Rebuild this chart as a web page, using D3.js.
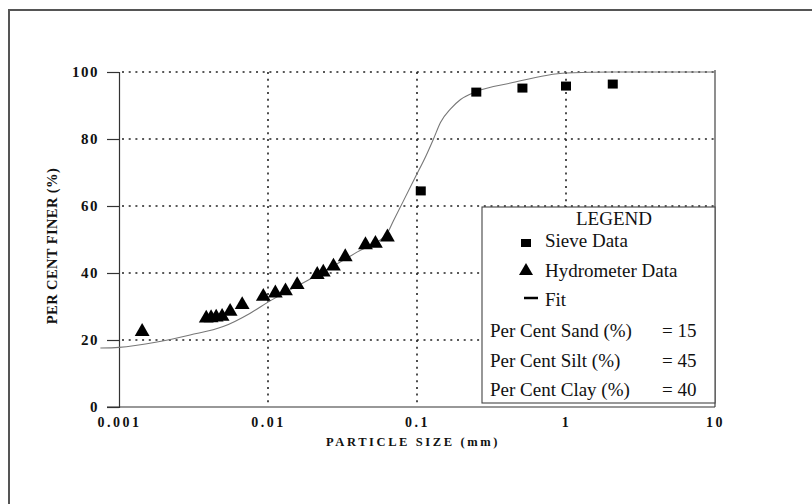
<!DOCTYPE html>
<html>
<head>
<meta charset="utf-8">
<script src="https://cdn.jsdelivr.net/npm/d3@7"></script>
<style>
  html, body { margin: 0; padding: 0; background: #fff; }
  svg { display: block; }
  text { fill: #111; }
</style>
</head>
<body>
<svg id="chart" width="812" height="504"></svg>
<script>
// Grain-size distribution: sieve + hydrometer readings with fitted curve
const sieveSize  = [0.106, 0.25, 0.51, 1.0, 2.06];
const sieveFiner = [64.5, 94.0, 95.2, 95.8, 96.4];

const hydroSize  = [0.00143, 0.00385, 0.00415, 0.00449, 0.00492, 0.00557, 0.00671,
                    0.0093, 0.0112, 0.0131, 0.0157, 0.0214, 0.0235, 0.0275, 0.0330,
                    0.0451, 0.0526, 0.0633];
const hydroFiner = [22.5, 26.5, 26.6, 26.8, 27.0, 28.5, 30.5,
                    33.0, 34.0, 34.6, 36.5, 39.5, 40.2, 42.0, 44.8,
                    48.4, 48.8, 50.7];

const fitSize  = [0.00075, 0.001, 0.0018, 0.003, 0.005, 0.0076, 0.01, 0.0192, 0.0398,
                  0.0633, 0.0695, 0.0977, 0.115, 0.129, 0.144, 0.168, 0.196, 0.251, 0.425,
                  1.0, 2.06, 4.0, 10.0];
const fitFiner = [17.6, 17.8, 19.4, 21.5, 24.0, 28.0, 31.3, 38.2, 46.3,
                  52.0, 55.6, 68.7, 75.0, 80.0, 85.0, 89.0, 91.8, 94.2, 96.7,
                  99.7, 100, 100, 100];

const xTickValues = [0.001, 0.01, 0.1, 1, 10];
const xTickLabels = ["0.001", "0.01", "0.1", "1", "10"];
const yTickValues = [0, 20, 40, 60, 80, 100];

const legendTitle = "LEGEND";
const seriesNames = ["Sieve Data", "Hydrometer Data", "Fit"];
const statNames  = ["Per Cent Sand (%)", "Per Cent Silt (%)", "Per Cent Clay (%)"];
const statValues = [15, 45, 40];

const svg = d3.select("#chart");
const serif = "'Liberation Serif', 'Times New Roman', serif";

// outer frame (runs off the right and bottom edges)
svg.append("path")
  .attr("d", "M9,520 L9,10 L830,10")
  .attr("fill", "none").attr("stroke", "#555").attr("stroke-width", 2);

const x = d3.scaleLog().domain([0.001, 10]).range([119, 715]);
const y = d3.scaleLinear().domain([0, 100]).range([407, 72]);

// dotted grid
const grid = svg.append("g").attr("stroke", "#222").attr("stroke-width", 1.6)
  .attr("stroke-dasharray", "2,4.7");
grid.selectAll("line.h").data(yTickValues.filter(d => d > 0)).join("line")
  .attr("x1", x(0.001) + 3).attr("x2", x(10))
  .attr("y1", d => y(d)).attr("y2", d => y(d));
grid.selectAll("line.v").data(xTickValues.slice(1, -1)).join("line")
  .attr("x1", d => x(d)).attr("x2", d => x(d))
  .attr("y1", y(100)).attr("y2", y(0));

// y axis
const yAxis = svg.append("g").attr("transform", `translate(${x(0.001)},0)`)
  .call(d3.axisLeft(y).tickValues(yTickValues).tickSize(12).tickPadding(8));
yAxis.select(".domain").attr("stroke", "#333").attr("stroke-width", 1.2);
yAxis.selectAll(".tick line").attr("stroke", "#333").attr("stroke-width", 1.2);
yAxis.selectAll(".tick text")
  .style("font-family", serif).style("font-weight", "bold").style("font-size", "15px")
  .style("letter-spacing", "1.5px").attr("fill", "#111");

// x axis
const xAxis = svg.append("g").attr("transform", `translate(0,${y(0)})`)
  .call(d3.axisBottom(x).tickValues(xTickValues)
    .tickFormat((d, i) => xTickLabels[i]).tickSize(0).tickPadding(10));
xAxis.select(".domain").attr("stroke", "#333").attr("stroke-width", 1.2)
  .attr("d", `M${x(0.001) - 12},0H${x(10)}`);
xAxis.selectAll(".tick text")
  .style("font-family", serif).style("font-weight", "bold").style("font-size", "14px")
  .style("letter-spacing", "2.5px").attr("fill", "#111");

// right border
svg.append("line")
  .attr("x1", x(10)).attr("x2", x(10)).attr("y1", y(100) - 2).attr("y2", y(0))
  .attr("stroke", "#444").attr("stroke-width", 1.2);

// axis titles
svg.append("text")
  .attr("x", 413).attr("y", 446).attr("text-anchor", "middle")
  .style("font-family", serif).style("font-weight", "bold").style("font-size", "12.5px")
  .style("letter-spacing", "2.6px")
  .text("PARTICLE SIZE (mm)");
svg.append("text")
  .attr("transform", "translate(57,246) rotate(-90)").attr("text-anchor", "middle")
  .style("font-family", serif).style("font-weight", "bold").style("font-size", "14.5px")
  .style("letter-spacing", "0.4px")
  .text("PER CENT FINER (%)");

// fit curve
const fitData = fitSize.map((s, i) => [s, fitFiner[i]]);
svg.append("path").datum(fitData)
  .attr("fill", "none").attr("stroke", "#777").attr("stroke-width", 1.1)
  .attr("d", d3.line().x(d => x(d[0])).y(d => y(d[1])).curve(d3.curveMonotoneX));

// hydrometer triangles
const tri = d3.symbol().type(d3.symbolTriangle).size(95);
svg.append("g").selectAll("path")
  .data(hydroSize.map((s, i) => [s, hydroFiner[i]])).join("path")
  .attr("transform", d => `translate(${x(d[0])},${y(d[1])})`)
  .attr("d", tri).attr("fill", "#000");

// sieve squares
svg.append("g").selectAll("rect")
  .data(sieveSize.map((s, i) => [s, sieveFiner[i]])).join("rect")
  .attr("x", d => x(d[0]) - 5).attr("y", d => y(d[1]) - 4.5)
  .attr("width", 10).attr("height", 9).attr("fill", "#000");

// legend box
const lg = svg.append("g");
lg.append("rect")
  .attr("x", 482).attr("y", 207).attr("width", x(10) - 482).attr("height", 196)
  .attr("fill", "#fff").attr("stroke", "#444").attr("stroke-width", 1.1);
const lfont = sel => sel.style("font-family", serif).style("font-size", "19px");
lg.append("text").attr("x", 614).attr("y", 225).attr("text-anchor", "middle")
  .call(lfont).text(legendTitle);
// symbols
lg.append("rect").attr("x", 521).attr("y", 239).attr("width", 10).attr("height", 8).attr("fill", "#000");
lg.append("path").attr("transform", "translate(526,271)")
  .attr("d", d3.symbol().type(d3.symbolTriangle).size(85)).attr("fill", "#000");
lg.append("line").attr("x1", 524).attr("x2", 538).attr("y1", 298).attr("y2", 298)
  .attr("stroke", "#000").attr("stroke-width", 2.5);
const rowY = [247, 277, 306];
lg.selectAll("text.series").data(seriesNames).join("text")
  .attr("class", "series").attr("x", 545).attr("y", (d, i) => rowY[i])
  .call(lfont).text(d => d);
const statY = [337, 367, 396];
lg.selectAll("text.stat").data(statNames).join("text")
  .attr("class", "stat").attr("x", 490).attr("y", (d, i) => statY[i])
  .call(lfont).text(d => d);
lg.selectAll("text.val").data(statValues).join("text")
  .attr("class", "val").attr("x", 662).attr("y", (d, i) => statY[i])
  .call(lfont).text(d => "= " + d);
</script>
</body>
</html>
